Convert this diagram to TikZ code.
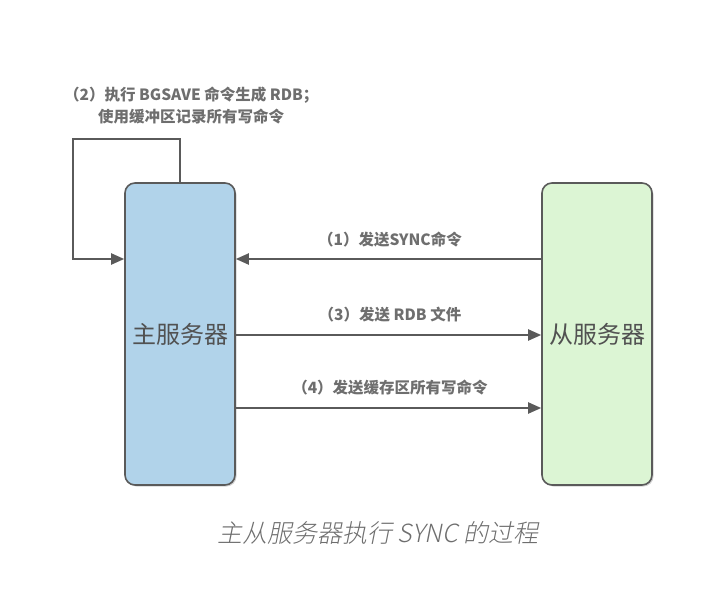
\documentclass[tikz,border=0pt]{standalone}
\usepackage{fontspec}
\setmainfont{Noto Sans CJK SC}
\newfontfamily\cjkit[FakeSlant=0.2]{Noto Sans CJK SC Light}
\usetikzlibrary{arrows.meta,shadows}
\definecolor{linec}{HTML}{5A5A5A}
\definecolor{txtc}{HTML}{6E6E6E}
\definecolor{masterc}{HTML}{B1D3EA}
\definecolor{slavec}{HTML}{DCF5D4}
\begin{document}
\begin{tikzpicture}[x=1pt,y=-1pt,
  server/.style={draw=linec,line width=1.6pt,rounded corners=10pt,minimum width=110pt,minimum height=302pt,inner sep=0pt,
    font=\fontsize{24}{26}\selectfont,text=linec!90!black,
    drop shadow={shadow xshift=1.5pt,shadow yshift=-1.5pt,opacity=0.35}},
  conn/.style={draw=linec,line width=2pt,-{Triangle[length=13pt,width=11pt]}},
  lbl/.style={font=\fontsize{15.5}{18}\selectfont\bfseries,text=txtc,inner sep=0pt}]
\useasboundingbox (0,0) rectangle (726,616);
\node[server,fill=masterc] (master) at (180,334) {主服务器};
\node[server,fill=slavec] (slave) at (597,334) {从服务器};
% loop
\coordinate (l1) at (180,139);
\coordinate (l2) at (73,139);
\coordinate (l3) at (73,259);
\draw[conn,rounded corners=0pt] (master.north -| l1) -- (l1) -- (l2) -- (l3) -- (master.west |- l3);
\node[lbl,anchor=west] (t2a) at (64,95) {（2）执行 BGSAVE 命令生成 RDB；};
\node[lbl,anchor=west] (t2b) at (98,117) {使用缓冲区记录所有写命令};
% arrows
\draw[conn] (slave.west |- 0,259) -- (master.east |- 0,259);
\draw[conn] (master.east |- 0,335) -- (slave.west |- 0,335);
\draw[conn] (master.east |- 0,408) -- (slave.west |- 0,408);
\node[lbl] (t1) at (390,240) {（1）发送SYNC命令};
\node[lbl] (t3) at (390,315) {（3）发送 RDB 文件};
\node[lbl] (t4) at (390,388) {（4）发送缓存区所有写命令};
\node[font=\fontsize{25}{27}\selectfont\cjkit,text=txtc] (cap) at (378,533) {主从服务器执行 SYNC 的过程};
\end{tikzpicture}
\end{document}
